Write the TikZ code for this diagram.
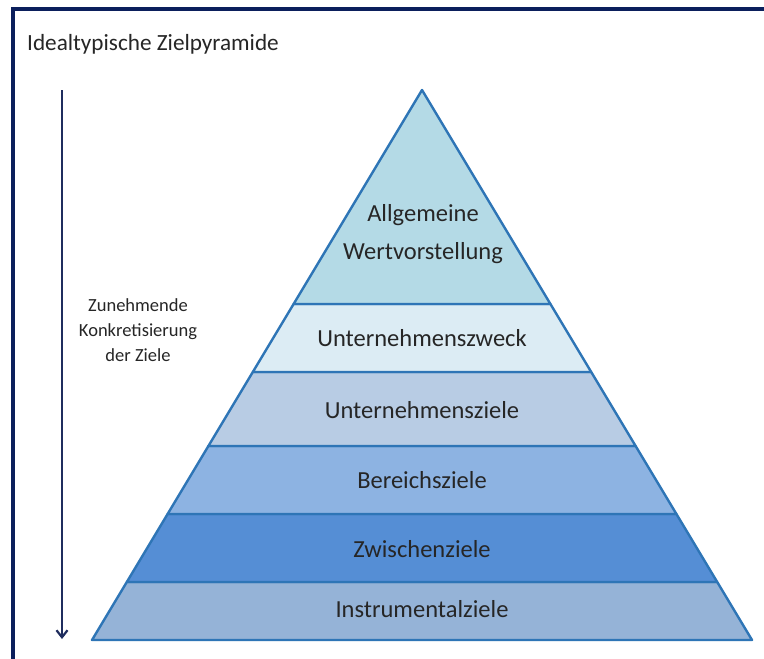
\documentclass[tikz,border=0pt]{standalone}
\usepackage{fontspec}
\setmainfont{Carlito}
\usetikzlibrary{arrows.meta}
\definecolor{navy}{HTML}{0B1F5C}
\definecolor{arrowc}{HTML}{1F2D5E}
\definecolor{edge}{HTML}{2E75B6}
\definecolor{cA}{HTML}{B4DAE6}
\definecolor{cB}{HTML}{DCECF4}
\definecolor{cC}{HTML}{B8CCE4}
\definecolor{cD}{HTML}{8DB3E2}
\definecolor{cE}{HTML}{558ED5}
\definecolor{cF}{HTML}{95B3D7}
\definecolor{txt}{HTML}{262626}
\tikzset{
  layer/.style={draw=edge, line width=2.4pt, line join=round},
  lbl/.style={font=\fontsize{24.5}{28}\selectfont, text=txt, align=center, inner sep=0pt},
}
\begin{document}
\begin{tikzpicture}[x=1pt,y=-1pt]
\useasboundingbox (0,0) rectangle (764,659);
\fill[white] (0,0) rectangle (764,659);
% frame
\draw[navy, line width=3.5pt] (13,659) -- (13,9) -- (764,9);
% title
\node[anchor=west, font=\fontsize{23.2}{26}\selectfont, text=txt, inner sep=0pt] (title) at (27,44) {Idealtypische Zielpyramide};
% arrow
\coordinate (aTop) at (62,90);
\coordinate (aBot) at (62,639);
\draw[arrowc, line width=2.2pt, -{Straight Barb[length=7pt,width=11pt,line width=2.2pt]}] (aTop) -- (aBot);
\node[font=\fontsize{18.5}{25}\selectfont, text=txt, align=center, inner sep=0pt] (side) at (138,330) {Zunehmende\\Konkretisierung\\der Ziele};
% layers
\path[layer, fill=cF] (126.8,582) -- (717.2,582) -- (752,640) -- (92,640) -- cycle;
\path[layer, fill=cE] (167.6,514) -- (676.4,514) -- (717.2,582) -- (126.8,582) -- cycle;
\path[layer, fill=cD] (208.4,446) -- (635.6,446) -- (676.4,514) -- (167.6,514) -- cycle;
\path[layer, fill=cC] (252.8,372) -- (591.2,372) -- (635.6,446) -- (208.4,446) -- cycle;
\path[layer, fill=cB] (293.6,304) -- (550.4,304) -- (591.2,372) -- (252.8,372) -- cycle;
\path[layer, fill=cA] (422,90) -- (550.4,304) -- (293.6,304) -- cycle;
% labels
\node[lbl, font=\fontsize{24.5}{38}\selectfont] (l1) at (423,234) {Allgemeine\\Wertvorstellung};
\node[lbl] (l2) at (422,338) {Unternehmenszweck};
\node[lbl] (l3) at (422,410) {Unternehmensziele};
\node[lbl] (l4) at (422,480) {Bereichsziele};
\node[lbl] (l5) at (422,549) {Zwischenziele};
\node[lbl] (l6) at (422,609) {Instrumentalziele};
\end{tikzpicture}
\end{document}
